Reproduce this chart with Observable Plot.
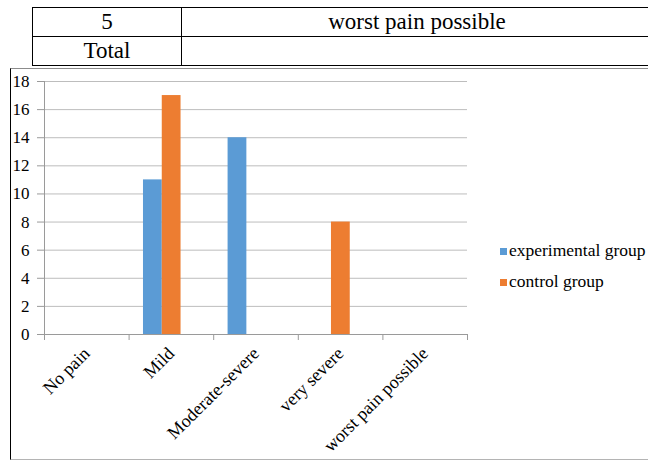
<!DOCTYPE html>
<html><head><meta charset="utf-8">
<script src="https://cdn.jsdelivr.net/npm/d3@7"></script>
<script src="https://cdn.jsdelivr.net/npm/@observablehq/plot@0.6"></script>
<style>
html,body{margin:0;padding:0;background:#fff;}
body{width:648px;height:461px;overflow:hidden;position:relative;color:#000;font-family:'Liberation Serif',serif;}
table{position:absolute;left:32px;top:7px;border-collapse:collapse;width:621px;font-size:23px;font-family:'Liberation Serif',serif;}
td{border:1.7px solid #000;height:28px;padding:0;text-align:center;line-height:28px;}
td.c1{width:148px;}
#frame{position:absolute;left:10px;top:68px;width:660px;height:390px;border-left:1px solid #000;border-top:1.5px solid #8c8c8c;border-bottom:1.5px solid #b4b4b4;}
#chart{position:absolute;left:10px;top:69px;}
.leg{position:absolute;left:500px;font-size:17.5px;line-height:18px;white-space:nowrap;font-family:'Liberation Serif',serif;}
.leg i{display:inline-block;width:7px;height:7px;margin-right:2px;vertical-align:1px;}
</style>
</head><body>
<table>
<tr><td class="c1">5</td><td>worst pain possible</td></tr>
<tr><td class="c1">Total</td><td></td></tr>
</table>
<div id="frame"></div>
<div id="chart"></div>
<div id="legend"></div>
<script>
const categories = ["No pain", "Mild", "Moderate-severe", "very severe", "worst pain possible"];
const seriesNames = ["experimental group", "control group"];
const experimental = [0, 11, 14, 0, 0];
const control = [0, 17, 0, 8, 0];
const yTicks = [0, 2, 4, 6, 8, 10, 12, 14, 16, 18];
const colors = ["#5b9bd5", "#ed7d31"];

// layout of bars within each category band (fraction of the band)
const pad = 0.17, bw = 0.222;
const rows = categories.flatMap((c, i) => [experimental, control].map((vals, s) => ({
  category: c, series: seriesNames[s], idx: i, slot: s, value: vals[i]
})));

const boundaries = d3.range(categories.length + 1);
const centers = categories.map((c, i) => i + 0.5);

const plot = Plot.plot({
  width: 638,
  height: 391,
  marginLeft: 34,
  marginRight: 181,
  marginTop: 12,
  marginBottom: 126,
  style: {fontFamily: "Liberation Serif", fontSize: "16px", background: "transparent", color: "#000"},
  x: {type: "linear", domain: [0, categories.length]},
  y: {domain: [0, 18]},
  color: {domain: seriesNames, range: colors},
  marks: [
    Plot.gridY(yTicks, {stroke: "#bdbdbd", strokeOpacity: 1}),
    Plot.axisY({ticks: yTicks, tickSize: 7, tickPadding: 8, stroke: "#9a9a9a", fontSize: 17, label: null}),
    Plot.rectY(rows, {x1: d => d.idx + pad + d.slot * bw, x2: d => d.idx + pad + (d.slot + 1) * bw, y: "value", fill: "series"}),
    Plot.ruleY([0], {stroke: "#9a9a9a"}),
    Plot.ruleX([0], {y1: 0, y2: 18, stroke: "#9a9a9a"}),
    Plot.axisX({ticks: boundaries, tickSize: 6, tickFormat: () => "", stroke: "#9a9a9a", label: null}),
    Plot.axisX({ticks: centers, tickSize: 0, tickPadding: 16, tickRotate: -45, tickFormat: v => categories[Math.floor(v)], fontSize: 18, label: null})
  ]
});
document.getElementById("chart").appendChild(plot);

const legend = document.getElementById("legend");
seriesNames.forEach((name, i) => {
  const d = document.createElement("div");
  d.className = "leg";
  d.style.top = (241 + i * 31) + "px";
  d.innerHTML = `<i style="background:${colors[i]}"></i>${name}`;
  legend.appendChild(d);
});
</script>
</body></html>
